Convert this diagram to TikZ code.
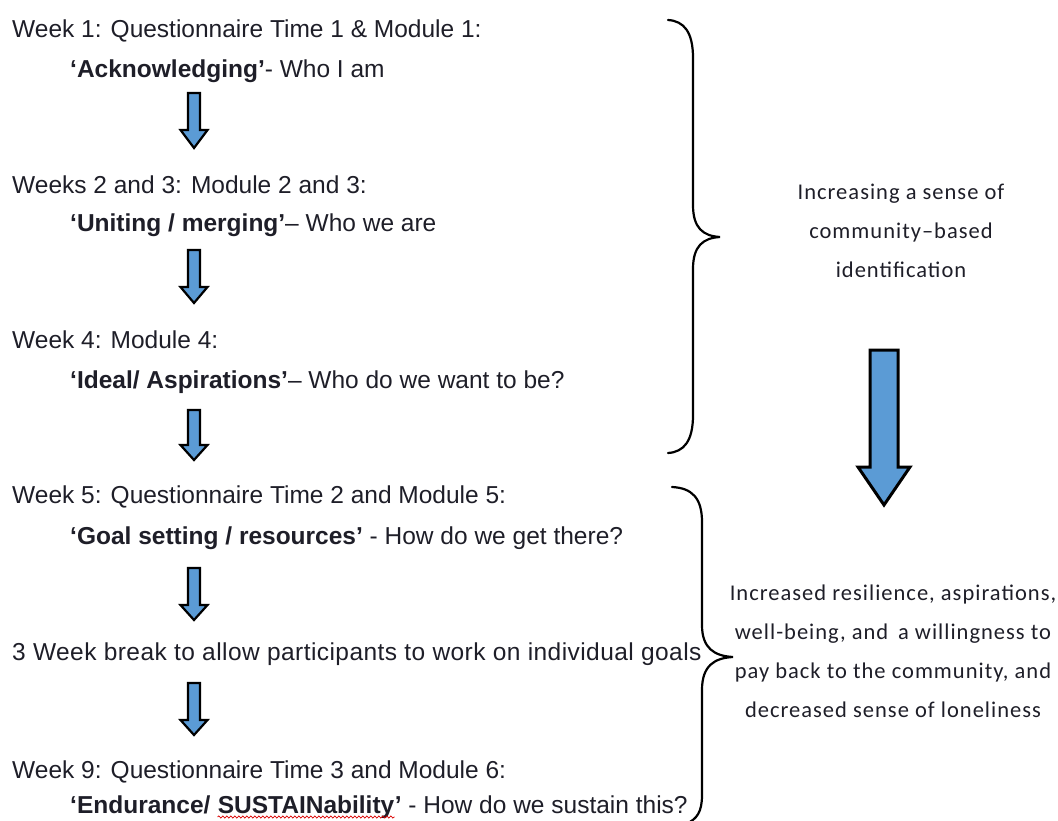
\documentclass[tikz,border=0pt]{standalone}
\usepackage{fontspec}
\setmainfont{Liberation Sans}
\newfontfamily\calib[LetterSpace=4.5]{Carlito}
\usetikzlibrary{decorations.pathmorphing}

\definecolor{arrowblue}{HTML}{5B9BD5}
\definecolor{textdark}{HTML}{1E1E28}

% block arrow pointing down: centre x, top y, head-start y, tip y, shaft half width, head half width
\newcommand\blockdown[6]{%
  \draw[blockarrow] (#1-#5,#2) -- (#1+#5,#2) -- (#1+#5,#3) -- (#1+#6,#3)
    -- (#1,#4) -- (#1-#6,#3) -- (#1-#5,#3) -- cycle;}

% a word with a red wavy spell-check underline
\newcommand\squiggly[1]{\tikz[baseline=(w.base)]{%
  \node[inner sep=0pt] (w) {#1};
  \draw[red!85!black, line width=0.7pt, decorate,
    decoration={snake, amplitude=1.1pt, segment length=4pt}]
    ([yshift=-4pt]w.base west) -- ([yshift=-4pt]w.base east);}}

\tikzset{
  stage/.style={anchor=base west, inner sep=0pt, text=textdark,
    font=\fontsize{24.5}{29}\selectfont},
  outcome/.style={align=center, inner sep=0pt, text=textdark,
    font=\calib\fontsize{22.5}{39}\selectfont},
  blockarrow/.style={draw=black, fill=arrowblue, line width=2.2pt, line join=miter},
  bigarrow/.style={draw=black, fill=arrowblue, line width=3pt, line join=miter},
  brace/.style={draw=black, line width=2.2pt, line cap=round},
}

\begin{document}
\begin{tikzpicture}[x=1pt, y=-1pt]
\useasboundingbox (0,0) rectangle (1058,821);

% stages down the left
\node[stage] (w1)  at (12,38)  {Week 1: Questionnaire Time 1 \& Module 1:};
\node[stage] (m1)  at (70,78)  {\textbf{‘Acknowledging’}- Who I am};
\node[stage] (w2)  at (12,194) {Weeks 2 and 3: Module 2 and 3:};
\node[stage] (m2)  at (70,232) {\textbf{‘Uniting / merging’}– Who we are};
\node[stage] (w4)  at (12,348) {Week 4: Module 4:};
\node[stage] (m4)  at (70,388) {\textbf{‘Ideal/ Aspirations’}– Who do we want to be?};
\node[stage] (w5)  at (12,503) {Week 5: Questionnaire Time 2 and Module 5:};
\node[stage] (m5)  at (70,544) {\textbf{‘Goal setting / resources’} - How do we get there?};
\node[stage, font=\addfontfeature{LetterSpace=1.8}\fontsize{24.5}{29}\selectfont] (brk) at (12,660)
  {3 Week break to allow participants to work on individual goals};
\node[stage] (w9)  at (12,778) {Week 9: Questionnaire Time 3 and Module 6:};
\node[stage] (m9)  at (70,813) {\textbf{‘Endurance/ \squiggly{SUSTAINability}’} - How do we sustain this?};

% small arrows between stages
\blockdown{194}{93}{130}{148}{6}{13.5}
\blockdown{194}{250}{287}{303}{6}{13.5}
\blockdown{194}{410}{445}{460}{6}{13.5}
\blockdown{194}{568}{605}{620}{6}{13.5}
\blockdown{194}{683}{720}{735}{6}{13.5}

% upper brace
\draw[brace] (668,20) .. controls (684,21) and (693,32) .. (693,58) -- (693,205)
  .. controls (693,228) and (703,236) .. (720,237)
  .. controls (703,238) and (693,246) .. (693,269) -- (693,415)
  .. controls (693,441) and (684,452) .. (668,453);

% lower brace
\draw[brace] (672,487) .. controls (692,488) and (702,498) .. (702,522) -- (702,625)
  .. controls (702,648) and (714,656) .. (733,657)
  .. controls (714,658) and (702,666) .. (702,690) -- (702,795)
  .. controls (702,812) and (697,819) .. (686,824);

% outcomes on the right
\node[outcome] (o1) at (901,231) {Increasing a sense of\\community–based\\identification};
\node[outcome] (o2) at (893,651) {Increased resilience, aspirations,\\well-being, and\, a willingness to\\pay back to the community, and\\decreased sense of loneliness};

% large arrow from first outcome to second
\draw[bigarrow] (870,350) -- (898,350) -- (898,467) -- (910,467) -- (884,505)
  -- (858,467) -- (870,467) -- cycle;

\end{tikzpicture}
\end{document}
